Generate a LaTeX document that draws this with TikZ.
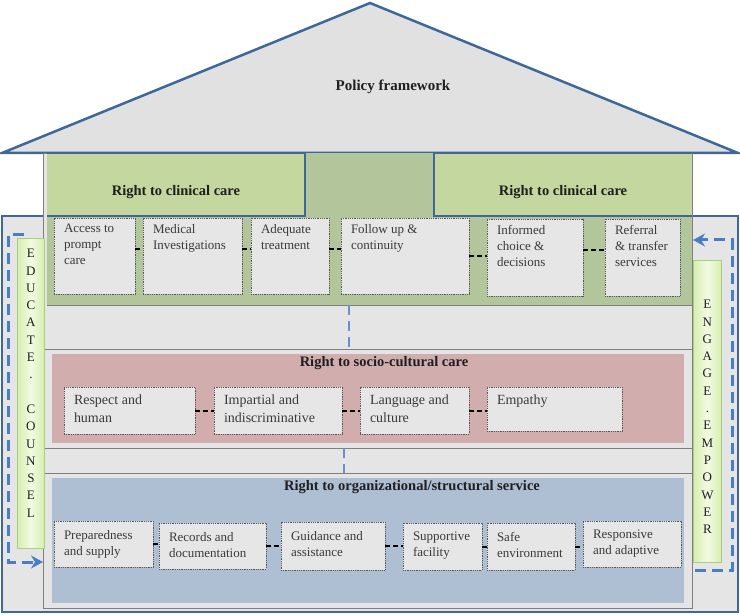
\documentclass[tikz,border=0pt]{standalone}
\usepackage{fontspec}
\setmainfont{Liberation Serif}
\usetikzlibrary{arrows.meta,positioning,calc}
\definecolor{roofblue}{HTML}{3F6899}
\definecolor{roofgray}{HTML}{E1E1E1}
\definecolor{panelgray}{HTML}{E5E5E5}
\definecolor{edgegray}{HTML}{7F7F7F}
\definecolor{clinband}{HTML}{B3C59B}
\definecolor{clinhead}{HTML}{C3D79E}
\definecolor{sociopink}{HTML}{D1ADAD}
\definecolor{orgblue}{HTML}{AEBFD4}
\definecolor{itemgray}{HTML}{E6E6E6}
\definecolor{dotgray}{HTML}{555555}
\definecolor{textgray}{HTML}{3A3A3A}
\definecolor{headblack}{HTML}{1F1F1F}
\definecolor{dashblue}{HTML}{4A7EC4}
\definecolor{sidegreen}{HTML}{A6CF80}
\definecolor{sidefill}{HTML}{D6EFAE}
\definecolor{sidelight}{HTML}{F2FAE3}

\newcommand{\boxlines}[3]{\parbox[c][#2pt][t]{#1pt}{\raggedright #3}}

\tikzset{
  roofline/.style={draw=roofblue, line width=2.5pt},
  thinedge/.style={draw=edgegray, line width=0.8pt},
  band/.style={anchor=north west, inner sep=0pt, outer sep=0pt},
  item/.style={anchor=north west, draw=dotgray, densely dotted, line width=0.8pt,
    fill=itemgray, inner xsep=10pt, inner ysep=6pt, outer sep=0pt, text=textgray,
    font=\fontsize{13}{16}\selectfont},
  headtext/.style={font=\fontsize{14.5}{17}\selectfont\bfseries, text=headblack},
  link/.style={draw=black, line width=2pt, dash pattern=on 5pt off 3pt},
  vlink/.style={draw=dashblue!85!white, line width=2pt, dash pattern=on 10pt off 6pt},
  sidebox/.style={anchor=north west, draw=sidegreen, line width=0.8pt,
    left color=sidefill, right color=sidefill, middle color=sidelight, inner sep=0pt},
  sidetext/.style={anchor=north, align=center, inner sep=0pt,
    font=\fontsize{13}{17.3}\selectfont, text=headblack},
  sidearrow/.style={draw=dashblue, line width=3pt, dash pattern=on 11pt off 6pt,
    -{Stealth[length=12pt,width=13pt,inset=4pt]}},
}

\begin{document}
\begin{tikzpicture}[x=1pt,y=-1pt]
  \useasboundingbox (0,0) rectangle (740,615);

  % Roof
  \draw[roofline, fill=roofgray] (2,153) -- (370,3) -- (738,153) -- cycle;
  \node[headtext, font=\fontsize{15}{18}\selectfont\bfseries] (policy) at (393,87) {Policy framework};

  % Building body
  \draw[roofline, fill=panelgray] (2,216) rectangle (738,612);
  \draw[thinedge, fill=panelgray] (43,153) rectangle (692,608);
  \node[band, thinedge, minimum width=649pt, minimum height=99pt] (sociosec) at (43,349) {};
  \node[band, thinedge, minimum width=649pt, minimum height=135pt] (orgsec) at (43,473) {};

  % Bands
  \node[band, fill=clinband, minimum width=645pt, minimum height=152pt] (clin) at (47,153) {};
  \draw[thinedge] (clin.south west) -- (clin.south east);
  \node[band, fill=sociopink, minimum width=632pt, minimum height=89pt] (socio) at (52,354) {};
  \node[band, fill=orgblue, minimum width=632pt, minimum height=125pt] (org) at (52,478) {};

  % Clinical headers
  \node[band, fill=clinhead, minimum width=258pt, minimum height=63pt] (hl) at (47,153) {};
  \node[band, fill=clinhead, minimum width=258pt, minimum height=63pt] (hr) at (434,153) {};
  \draw[roofline] (hl.north west) -- (hl.north east) -- (hl.south east) -- (hl.south west);
  \draw[roofline] (hr.north east) -- (hr.north west) -- (hr.south west) -- (hr.south east);
  \node[headtext] (hlt) at ([yshift=-8]hl.center) {Right to clinical care};
  \node[headtext] (hrt) at ([yshift=-8]hr.center) {Right to clinical care};

  % Clinical items
  \node[item] (acc) at (54,218) {\boxlines{61}{64}{Access to\\prompt\\care}};
  \node[item] (med) at (143,218) {\boxlines{79}{64}{Medical\\Investigations}};
  \node[item] (adq) at (251,218) {\boxlines{58}{64}{Adequate\\treatment}};
  \node[item] (fol) at (341,218) {\boxlines{108}{64}{Follow up \&\\continuity}};
  \node[item] (inf) at (487,219) {\boxlines{76}{65}{Informed\\choice \&\\decisions}};
  \node[item] (ref) at (605,219) {\boxlines{55}{65}{Referral\\\& transfer\\services}};
  \draw[link] ([yshift=7]acc.east) -- ([yshift=7]med.west);
  \draw[link] ([yshift=7]med.east) -- ([yshift=7]adq.west);
  \draw[link] ([yshift=7]adq.east) -- ([yshift=7]fol.west);
  \draw[link] (fol.east) -- (fol.east -| inf.west);
  \draw[link] ([yshift=7]inf.east) -- ([yshift=7]ref.west);

  % Socio-cultural
  \node[headtext] (sociot) at (384,363) {Right to socio-cultural care};
  \begin{scope}[item/.append style={inner ysep=8pt, font=\fontsize{14}{18}\selectfont}]
    \node[item] (res) at (64,387) {\boxlines{111}{31}{Respect and\\human}};
    \node[item] (imp) at (214,387) {\boxlines{108}{31}{Impartial and\\indiscriminative}};
    \node[item] (lan) at (360,387) {\boxlines{89}{31}{Language and\\culture}};
    \node[item] (emp) at (487,387) {\boxlines{115}{28}{Empathy}};
  \end{scope}
  \draw[link] (res.east) -- (imp.west);
  \draw[link] (imp.east) -- (lan.west);
  \draw[link] (lan.east) -- (lan.east -| emp.west);

  % Organizational
  \node[headtext] (orgt) at (412,487) {Right to organizational/structural service};
  \begin{scope}[item/.append style={inner ysep=9pt}]
    \node[item] (pre) at (54,521) {\boxlines{79}{28}{Preparedness\\and supply}};
    \node[item] (rec) at (159,523) {\boxlines{87}{28}{Records and\\documentation}};
    \node[item] (gui) at (281,522) {\boxlines{84}{30}{Guidance and\\assistance}};
    \node[item] (sup) at (403,523) {\boxlines{59}{29}{Supportive\\facility}};
    \node[item] (saf) at (487,523) {\boxlines{68}{29}{Safe\\environment}};
    \node[item] (rsp) at (583,521) {\boxlines{78}{28}{Responsive\\and adaptive}};
  \end{scope}
  \draw[link] (pre.east) -- (pre.east -| rec.west);
  \draw[link] (rec.east) -- (rec.east -| gui.west);
  \draw[link] (gui.east) -- (gui.east -| sup.west);
  \draw[link] (sup.east) -- (sup.east -| saf.west);
  \draw[link] (saf.east) -- (saf.east -| rsp.west);

  % Links between levels
  \coordinate (vcol) at (349,0);
  \coordinate (vcolb) at (344,0);
  \draw[vlink] (clin.south -| vcol) -- (sociosec.north -| vcol);
  \draw[vlink] (sociosec.south -| vcolb) -- (orgsec.north -| vcolb);

  % Side pillars
  \node[sidebox, minimum width=27pt, minimum height=310pt] (educ) at (17,238) {};
  \node[sidetext] (educt) at ([yshift=-11]educ.north) {E\\D\\U\\C\\A\\T\\E\\.\\[17.3pt]C\\O\\U\\N\\S\\E\\L};
  \node[sidebox, minimum width=28pt, minimum height=302pt] (engage) at (693,260) {};
  \node[sidetext] (engaget) at ([yshift=-40]engage.north) {E\\N\\G\\A\\G\\E\\.\\E\\M\\P\\O\\W\\E\\R};

  % Cycle arrows
  \coordinate (lstart) at (24,235);
  \coordinate (ltip) at (43,562);
  \draw[sidearrow] (lstart) -- ++(-16,0) |- (ltip);
  \coordinate (rstart) at (695,570);
  \coordinate (rtip) at (693,240);
  \draw[sidearrow] (rstart) -- ++(37,0) |- (rtip);
\end{tikzpicture}
\end{document}
